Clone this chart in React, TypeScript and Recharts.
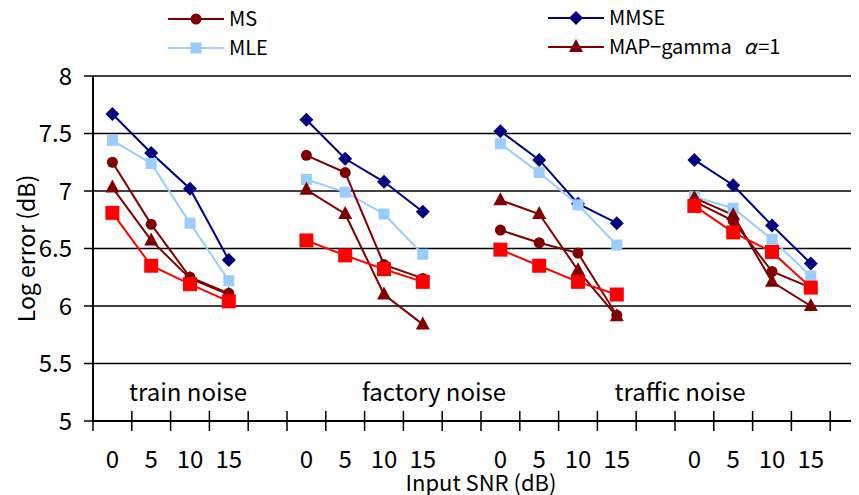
import React from "react";
import { CartesianGrid, Line, LineChart, ReferenceDot, XAxis, YAxis } from "recharts";

// four noise types x four input SNRs, one blank slot after each group
const snrLabels = ["0", "5", "10", "15"];
const noiseGroups = ["train noise", "factory noise", "traffic noise", ""];
const yTicks = [5, 5.5, 6, 6.5, 7, 7.5, 8];

// values per series, group after group (train, factory, traffic, 4th)
const msValues = [7.25, 6.71, 6.25, 6.11, 7.31, 7.16, 6.36, 6.24, 6.66, 6.55, 6.46, 5.92, 6.91, 6.74, 6.3, 6.16];
const mmseValues = [7.67, 7.33, 7.02, 6.4, 7.62, 7.28, 7.08, 6.82, 7.52, 7.27, 6.89, 6.72, 7.27, 7.05, 6.7, 6.37];
const mleValues = [7.44, 7.24, 6.72, 6.22, 7.1, 6.99, 6.8, 6.45, 7.41, 7.16, 6.88, 6.53, 6.95, 6.85, 6.58, 6.26];
const mapValues = [7.03, 6.57, 6.24, 6.1, 7.01, 6.8, 6.1, 5.84, 6.92, 6.8, 6.31, 5.91, 6.94, 6.79, 6.21, 6.0];
const redValues = [6.81, 6.35, 6.19, 6.04, 6.57, 6.44, 6.32, 6.21, 6.49, 6.35, 6.21, 6.1, 6.87, 6.64, 6.47, 6.16];

const SLOTS = 20;
const BAND = 38.8; // px per slot on the x axis
const FONT = "'Noto Sans CJK JP', 'Noto Sans', sans-serif";

type Row = { x: number; ms: number | null; mmse: number | null; mle: number | null; map: number | null; red: number | null };

const rows: Row[] = Array.from({ length: SLOTS }, (_, s) => {
  const g = Math.floor(s / 5);
  const k = s % 5;
  if (k === 4) return { x: s + 0.5, ms: null, mmse: null, mle: null, map: null, red: null };
  const i = g * 4 + k;
  return { x: s + 0.5, ms: msValues[i], mmse: mmseValues[i], mle: mleValues[i], map: mapValues[i], red: redValues[i] };
});

type Shape = "circle" | "diamond" | "square" | "bigsquare" | "triangle";

function Marker({ shape, cx, cy, color }: { shape: Shape; cx: number; cy: number; color: string }) {
  switch (shape) {
    case "circle":
      return <circle cx={cx} cy={cy} r={5.5} fill={color} />;
    case "diamond":
      return <polygon points={`${cx},${cy - 7} ${cx + 7},${cy} ${cx},${cy + 7} ${cx - 7},${cy}`} fill={color} />;
    case "square":
      return <rect x={cx - 5.5} y={cy - 5.5} width={11} height={11} fill={color} />;
    case "bigsquare":
      return <rect x={cx - 7} y={cy - 7} width={14} height={14} fill={color} />;
    case "triangle":
      return <polygon points={`${cx},${cy - 8} ${cx + 7},${cy + 5} ${cx - 7},${cy + 5}`} fill={color} />;
  }
}

const dotFor = (shape: Shape, color: string) => (p: any) => {
  if (p.value == null || p.cx == null || p.cy == null) return <g key={p.index} />;
  return <Marker key={p.index} shape={shape} cx={p.cx} cy={p.cy} color={color} />;
};

function SnrTick(props: any) {
  const { x, y, payload } = props;
  const slot = Math.round(payload.value - 0.5);
  const k = slot % 5;
  const left = x - BAND / 2;
  return (
    <g>
      <line x1={left} x2={left} y1={y - 10} y2={y + 10} stroke="#000" strokeWidth={1.5} />
      {k < 4 && (
        <text x={x} y={y + 47} textAnchor="middle" fontSize={24} fill="#000" fontFamily={FONT}>
          {snrLabels[k]}
        </text>
      )}
    </g>
  );
}

const legendItems: { name: string; color: string; shape: Shape; left: number; top: number }[] = [
  { name: "MS", color: "#800000", shape: "circle", left: 160, top: 11 },
  { name: "MLE", color: "#99CCFF", shape: "square", left: 160, top: 40 },
  { name: "MMSE", color: "#000080", shape: "diamond", left: 540, top: 10 },
  { name: "MAP\u2212gamma", color: "#800000", shape: "triangle", left: 540, top: 39 },
];

function LegendOverlay() {
  return (
    <svg width={851} height={60} style={{ position: "absolute", left: 0, top: 0 }}>
      {legendItems.map((it, i) => (
        <g key={it.name}>
          <line x1={it.left} x2={it.left + 56} y1={it.top} y2={it.top} stroke={it.color} strokeWidth={2} />
          <Marker shape={it.shape} cx={it.left + 28} cy={it.top} color={it.color} />
          <text x={it.left + 61} y={it.top + 7} fontSize={20} fontFamily={FONT} fill="#000" style={{ whiteSpace: "pre" }}>
            {it.name}
            {i === 3 && (
              <>
                <tspan dx={12} fontStyle="italic">{"\u03b1"}</tspan>
                <tspan dx={2}>=1</tspan>
              </>
            )}
          </text>
        </g>
      ))}
    </svg>
  );
}

export default function App() {
  const groupLabelX = [2.45, 8.79, 15.13];
  return (
    <div style={{ position: "relative", width: 851, height: 487, overflow: "hidden", fontFamily: FONT, background: "#fff" }}>
      <LineChart width={866} height={487} data={rows} margin={{ top: 68, right: 5, left: 0, bottom: 0 }}>
        <CartesianGrid horizontal vertical={false} stroke="#000" strokeWidth={1.5} />
        <XAxis
          dataKey="x"
          type="number"
          domain={[0, SLOTS]}
          ticks={rows.map((r) => r.x)}
          interval={0}
          tick={(p: any) => <SnrTick key={p.index} {...p} />}
          tickSize={0}
          tickMargin={0}
          tickLine={false}
          height={74}
          axisLine={{ stroke: "#000", strokeWidth: 2 }}
          label={{ value: "Input SNR (dB)", position: "insideBottom", offset: 4, fontSize: 22, fill: "#000" }}
        />
        <YAxis
          domain={[5, 8]}
          ticks={yTicks}
          width={85}
          tickSize={9}
          tickMargin={12}
          tick={{ fontSize: 24, fill: "#000" }}
          tickLine={{ stroke: "#000", strokeWidth: 1.5 }}
          axisLine={{ stroke: "#000", strokeWidth: 2 }}
          label={{ value: "Log error (dB)", angle: -90, position: "insideLeft", offset: 19, fontSize: 23, fill: "#000", style: { textAnchor: "middle" } }}
        />
        {groupLabelX.map((gx, i) => (
          <ReferenceDot
            key={noiseGroups[i]}
            x={gx}
            y={5.25}
            r={0}
            fill="none"
            stroke="none"
            label={{ value: noiseGroups[i], position: "center", fontSize: 24, fill: "#000" }}
          />
        ))}
        <Line dataKey="mmse" stroke="#000080" strokeWidth={2} dot={dotFor("diamond", "#000080")} isAnimationActive={false} connectNulls={false} />
        <Line dataKey="mle" stroke="#99CCFF" strokeWidth={2} dot={dotFor("square", "#99CCFF")} isAnimationActive={false} connectNulls={false} />
        <Line dataKey="ms" stroke="#800000" strokeWidth={2} dot={dotFor("circle", "#800000")} isAnimationActive={false} connectNulls={false} />
        <Line dataKey="map" stroke="#800000" strokeWidth={2} dot={dotFor("triangle", "#800000")} isAnimationActive={false} connectNulls={false} />
        <Line dataKey="red" stroke="#FF0000" strokeWidth={2} dot={dotFor("bigsquare", "#FF0000")} isAnimationActive={false} connectNulls={false} />
      </LineChart>
      <LegendOverlay />
    </div>
  );
}
